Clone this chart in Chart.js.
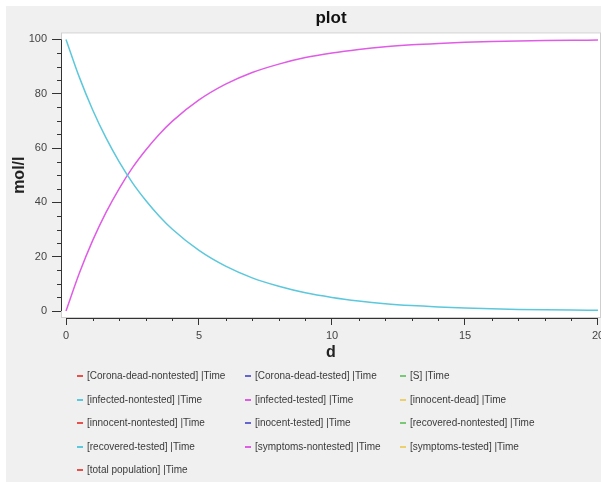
<!DOCTYPE html>
<html>
<head>
<meta charset="UTF-8">
<script src="https://cdn.jsdelivr.net/npm/chart.js"></script>
<style>
  body { margin: 0; background: #fff; overflow: hidden; }
  #panel { position: absolute; left: 6px; top: 6px; right: 0; bottom: 0; background: #f0f0f0; }
  #plot { position: absolute; left: 0; top: 0; }
  #legend {
    position: absolute; left: 77px; top: 364px;
    display: grid; grid-template-columns: 168px 155px auto;
    font: 10px "Liberation Sans", Arial, sans-serif; color: #3a3a3a;
  }
  #legend div { height: 23.5px; line-height: 23.5px; white-space: nowrap; }
  #legend span.dash { display: inline-block; width: 6px; height: 2px; margin-right: 4px; vertical-align: middle; }
</style>
</head>
<body>
<div id="panel"></div>
<canvas id="plot" width="601" height="482"></canvas>
<div id="legend"></div>
<script>
// series
const time = [0, 0.5, 1, 1.5, 2, 2.5, 3, 3.5, 4, 5, 6, 7, 8, 9, 10, 11, 12, 13, 14, 15, 16, 17, 18, 19, 20];
const infectedNontested = [100, 86.1, 74.1, 63.8, 54.9, 47.2, 40.7, 35.0, 30.1, 22.3, 16.5, 12.2, 9.1, 6.7, 5.0, 3.7, 2.7, 2.0, 1.5, 1.1, 0.8, 0.6, 0.45, 0.33, 0.25];
const infectedTested = [0, 13.9, 25.9, 36.2, 45.1, 52.8, 59.3, 65.0, 69.9, 77.7, 83.5, 87.8, 90.9, 93.3, 95.0, 96.3, 97.3, 98.0, 98.5, 98.9, 99.2, 99.4, 99.55, 99.67, 99.75];

const seriesNames = [
  '[Corona-dead-nontested] |Time', '[Corona-dead-tested] |Time', '[S] |Time',
  '[infected-nontested] |Time', '[infected-tested] |Time', '[innocent-dead] |Time',
  '[innocent-nontested] |Time', '[inocent-tested] |Time', '[recovered-nontested] |Time',
  '[recovered-tested] |Time', '[symptoms-nontested] |Time', '[symptoms-tested] |Time',
  '[total population] |Time'
];
const seriesColors = [
  '#e8504c', '#6464d2', '#78c878', '#5cc8dc', '#e05ce6', '#ecd070',
  '#e8504c', '#6464d2', '#78c878', '#5cc8dc', '#e05ce6', '#ecd070', '#e8504c'
];
const seriesValues = {
  '[infected-nontested] |Time': infectedNontested,
  '[infected-tested] |Time': infectedTested
};

const xMajor = [0, 5, 10, 15, 20];
const xMinor = [1, 2, 3, 4, 6, 7, 8, 9, 11, 12, 13, 14, 16, 17, 18, 19];
const yMajor = [0, 20, 40, 60, 80, 100];
const yMinor = [5, 10, 15, 25, 30, 35, 45, 50, 55, 65, 70, 75, 85, 90, 95];

const FONT = '"Liberation Sans", Arial, sans-serif';

const datasets = seriesNames.map((name, i) => {
  const vals = seriesValues[name] || [];
  return {
    label: name,
    borderColor: seriesColors[i],
    backgroundColor: seriesColors[i],
    borderWidth: 1.5,
    pointRadius: 0,
    cubicInterpolationMode: 'monotone',
    data: vals.map((v, k) => ({ x: time[k], y: v }))
  };
});

// white plot box, axis lines and minor ticks
const plotFrame = {
  id: 'plotFrame',
  beforeDraw(chart) {
    const { ctx, chartArea: a } = chart;
    ctx.save();
    ctx.fillStyle = '#fff';
    ctx.fillRect(a.left, a.top, a.right - a.left, a.bottom - a.top);
    ctx.strokeStyle = '#cfcfcf';
    ctx.lineWidth = 1;
    ctx.strokeRect(a.left + 0.5, a.top + 0.5, a.right - a.left - 1, a.bottom - a.top - 1);
    ctx.restore();
  },
  afterDraw(chart) {
    const { ctx, chartArea: a, scales } = chart;
    const x = scales.x, y = scales.y;
    ctx.save();
    ctx.strokeStyle = '#333';
    ctx.lineWidth = 1;
    ctx.beginPath();
    const yl = Math.round(a.left) + 0.5;
    ctx.moveTo(yl, y.getPixelForValue(100));
    ctx.lineTo(yl, y.getPixelForValue(0));
    const xb = Math.round(a.bottom) + 0.5;
    ctx.moveTo(x.getPixelForValue(0), xb);
    ctx.lineTo(x.getPixelForValue(20), xb);
    xMinor.forEach(v => {
      const px = Math.round(x.getPixelForValue(v)) + 0.5;
      ctx.moveTo(px, a.bottom);
      ctx.lineTo(px, a.bottom + 3);
    });
    yMinor.forEach(v => {
      const py = Math.round(y.getPixelForValue(v)) + 0.5;
      ctx.moveTo(a.left, py);
      ctx.lineTo(a.left - 4, py);
    });
    ctx.stroke();
    ctx.restore();
  }
};

const chart = new Chart(document.getElementById('plot'), {
  type: 'line',
  data: { datasets: datasets },
  options: {
    responsive: false,
    animation: false,
    layout: { padding: { left: 0, right: 0, top: 6, bottom: 119 }, autoPadding: false },
    plugins: {
      legend: { display: false },
      tooltip: { enabled: false },
      title: {
        display: true, text: 'plot', fullSize: false, color: '#111',
        font: { family: FONT, size: 17, weight: 'bold' },
        padding: { top: 2, bottom: 4 }
      }
    },
    scales: {
      x: {
        type: 'linear', min: -0.188, max: 20.113,
        afterBuildTicks: s => { s.ticks = xMajor.map(v => ({ value: v })); },
        afterFit: s => { s.height = 45; s.paddingLeft = 0; s.paddingRight = 0; },
        grid: { drawOnChartArea: false, tickLength: 7, color: '#333' },
        border: { display: false },
        ticks: { color: '#444', font: { family: FONT, size: 11 }, padding: 4, maxRotation: 0, autoSkip: false },
        title: { display: true, text: 'd', color: '#222', font: { family: FONT, size: 16, weight: 'bold' }, padding: { top: 0, bottom: 1 } }
      },
      y: {
        type: 'linear', min: -2.57, max: 102.57,
        afterBuildTicks: s => { s.ticks = yMajor.map(v => ({ value: v })); },
        afterFit: s => { s.width = 61; s.paddingTop = 0; s.paddingBottom = 0; },
        grid: { drawOnChartArea: false, tickLength: 9, color: '#333' },
        border: { display: false },
        ticks: { color: '#444', font: { family: FONT, size: 11 }, padding: 5, autoSkip: false },
        title: { display: true, text: 'mol/l', color: '#222', font: { family: FONT, size: 16, weight: 'bold' }, padding: { top: 10, bottom: 0 } }
      }
    }
  },
  plugins: [plotFrame]
});

// legend laid out as a 3-column grid, built from the chart datasets
const legendBox = document.getElementById('legend');
chart.data.datasets.forEach(ds => {
  const item = document.createElement('div');
  const dash = document.createElement('span');
  dash.className = 'dash';
  dash.style.background = ds.borderColor;
  item.appendChild(dash);
  item.appendChild(document.createTextNode(ds.label));
  legendBox.appendChild(item);
});
</script>
</body>
</html>
